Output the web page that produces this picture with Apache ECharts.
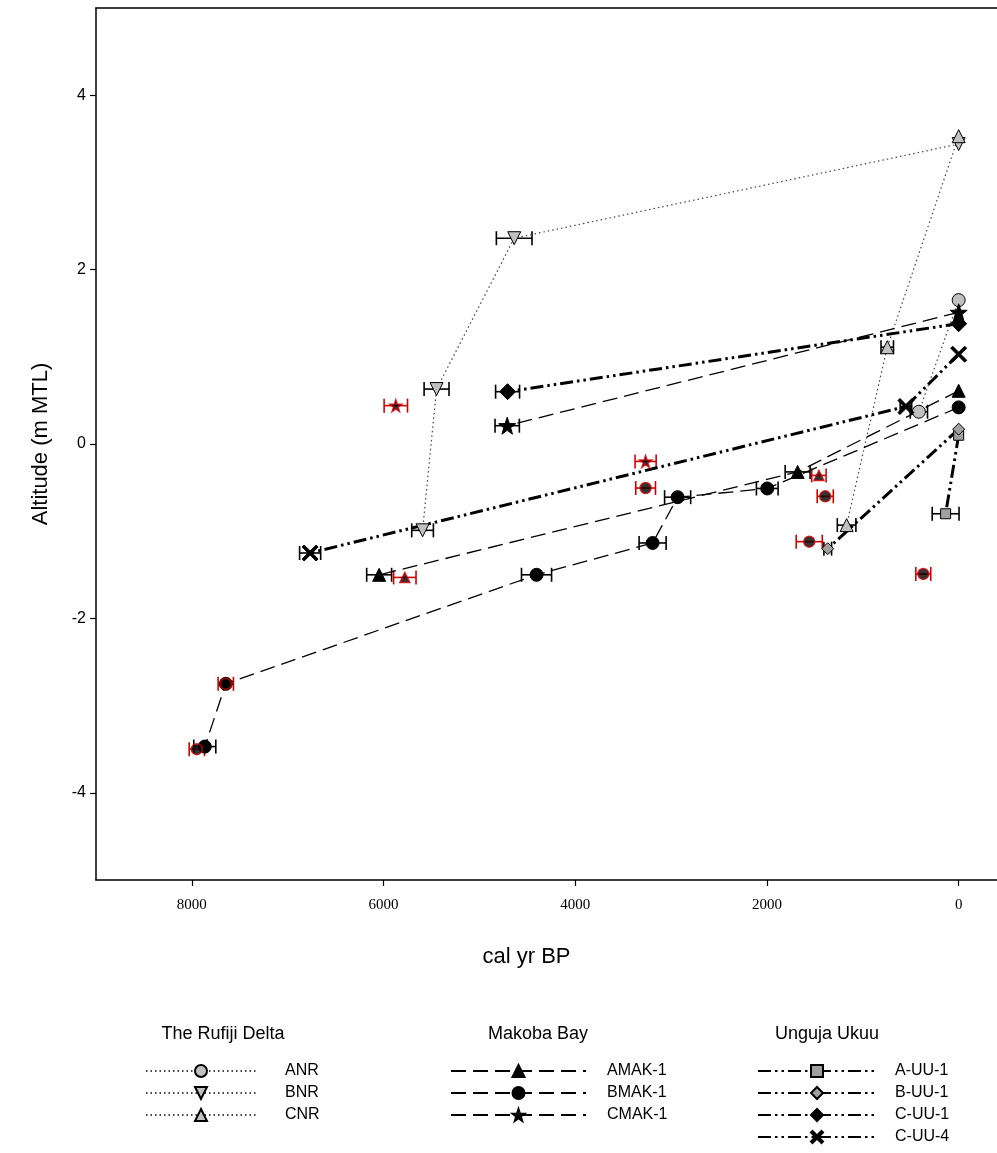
<!DOCTYPE html>
<html>
<head>
<meta charset="utf-8">
<script src="https://cdn.jsdelivr.net/npm/echarts@6/dist/echarts.min.js"></script>
<style>html,body{margin:0;padding:0;background:#fff}#c{width:997px;height:1153px}</style>
</head>
<body>
<div id="c"></div>
<script>
// ---- Data (cal yr BP, altitude m MTL, age error +/- yr) ----
const xTicks = [0, 2000, 4000, 6000, 8000];
const yTicks = [-4, -2, 0, 2, 4];

const anrYears = [0, 415];
const anrAlt = [1.65, 0.37];
const anrErr = [0, 90];

const bnrYears = [0, 4637, 5447, 5593];
const bnrAlt = [3.44, 2.36, 0.63, -0.99];
const bnrErr = [0, 186, 130, 113];

const cnrYears = [0, 745, 1169];
const cnrAlt = [3.53, 1.11, -0.93];
const cnrErr = [0, 65, 97];

const amakYears = [0, 1680, 6046];
const amakAlt = [0.61, -0.32, -1.50];
const amakErr = [0, 130, 130];

const bmakYears = [0, 1997, 2932, 3193, 4404, 7646, 7865];
const bmakAlt = [0.42, -0.51, -0.61, -1.135, -1.50, -2.75, -3.47];
const bmakErr = [0, 113, 136, 141, 157, 0, 115];

const cmakYears = [0, 4710];
const cmakAlt = [1.51, 0.21];
const cmakErr = [0, 127];

const auu1Years = [0, 136];
const auu1Alt = [0.10, -0.80];
const auu1Err = [0, 140];

const buu1Years = [0, 1366];
const buu1Alt = [0.17, -1.20];
const buu1Err = [0, 40];

const cuu1Years = [0, 4706];
const cuu1Alt = [1.38, 0.60];
const cuu1Err = [0, 125];

const cuu4Years = [0, 550, 6766];
const cuu4Alt = [1.03, 0.43, -1.25];
const cuu4Err = [0, 60, 110];

// dates shown with red error bars
const redTriYears = [5778, 1458];
const redTriAlt = [-1.53, -0.36];
const redTriErr = [117, 75];

const redCircYears = [7948, 7646, 3266, 1392, 1559, 369];
const redCircAlt = [-3.50, -2.75, -0.505, -0.60, -1.12, -1.49];
const redCircErr = [80, 80, 103, 84, 136, 78];

const redStarYears = [5872, 3266];
const redStarAlt = [0.44, -0.20];
const redStarErr = [122, 110];

// ---- helpers ----
const zip = (xs, ys) => xs.map((x, i) => [x, ys[i]]);
const zipErr = (xs, ys, es) => xs.map((x, i) => [x, ys[i], es[i]]).filter(d => d[2] > 0);

const STAR = 'path://M0,-10 L2.35,-3.24 L9.51,-3.09 L3.8,1.24 L5.88,8.09 L0,4 L-5.88,8.09 L-3.8,1.24 L-9.51,-3.09 L-2.35,-3.24 Z';
const XMARK = 'path://M-10,-7.5 L-7.5,-10 L0,-2.5 L7.5,-10 L10,-7.5 L2.5,0 L10,7.5 L7.5,10 L0,2.5 L-7.5,10 L-10,7.5 L-2.5,0 Z';
const GRAY = '#c0c0c0';

const blackErr = [].concat(
  zipErr(anrYears, anrAlt, anrErr), zipErr(bnrYears, bnrAlt, bnrErr), zipErr(cnrYears, cnrAlt, cnrErr),
  zipErr(amakYears, amakAlt, amakErr), zipErr(bmakYears, bmakAlt, bmakErr), zipErr(cmakYears, cmakAlt, cmakErr),
  zipErr(auu1Years, auu1Alt, auu1Err), zipErr(buu1Years, buu1Alt, buu1Err), zipErr(cuu1Years, cuu1Alt, cuu1Err),
  zipErr(cuu4Years, cuu4Alt, cuu4Err));
const redErr = [].concat(
  zipErr(redTriYears, redTriAlt, redTriErr), zipErr(redCircYears, redCircAlt, redCircErr),
  zipErr(redStarYears, redStarAlt, redStarErr));

function errSeries(data, color) {
  return {
    type: 'custom', data: data, z: 3, silent: true,
    encode: { x: 0, y: 1 },
    renderItem: function (params, api) {
      const x = api.value(0), y = api.value(1), e = api.value(2);
      const p1 = api.coord([x - e, y]);
      const p2 = api.coord([x + e, y]);
      const h = 7;
      const st = { stroke: color, lineWidth: 1.6, fill: null };
      return { type: 'group', children: [
        { type: 'line', shape: { x1: p1[0], y1: p1[1], x2: p2[0], y2: p2[1] }, style: st },
        { type: 'line', shape: { x1: p1[0], y1: p1[1] - h, x2: p1[0], y2: p1[1] + h }, style: st },
        { type: 'line', shape: { x1: p2[0], y1: p2[1] - h, x2: p2[0], y2: p2[1] + h }, style: st }
      ]};
    }
  };
}

const dotted = { color: '#444', width: 1.2, type: [1.5, 3] };
const dashed = { color: '#000', width: 1.3, type: [15, 7] };
const dashdot = { color: '#000', width: 3, type: [13, 4, 2.5, 4, 2.5, 4] };

function lineSeries(name, xs, ys, symbol, size, fill, ls, rot) {
  return {
    name: name, type: 'line', data: zip(xs, ys), z: 4,
    symbol: symbol, symbolSize: size, symbolRotate: rot || 0, showSymbol: true,
    lineStyle: ls,
    itemStyle: { color: fill, borderColor: '#000', borderWidth: 1 },
    emphasis: { disabled: true }, animation: false
  };
}
function redSeries(xs, ys, symbol, size) {
  return {
    type: 'scatter', data: zip(xs, ys), z: 6, symbol: symbol, symbolSize: size,
    itemStyle: { color: '#000', borderColor: '#d40000', borderWidth: 1.5 }, animation: false
  };
}

const chart = echarts.init(document.getElementById('c'), null, { renderer: 'canvas' });
const option = {
  animation: false,
  backgroundColor: '#fff',
  title: [
    { text: 'The Rufiji Delta', left: 218, top: 1020, textAlign: 'center', textStyle: { fontFamily: 'Liberation Sans', fontSize: 18, fontWeight: 'normal', color: '#000' } },
    { text: 'Makoba Bay', left: 533, top: 1020, textAlign: 'center', textStyle: { fontFamily: 'Liberation Sans', fontSize: 18, fontWeight: 'normal', color: '#000' } },
    { text: 'Unguja Ukuu', left: 822, top: 1020, textAlign: 'center', textStyle: { fontFamily: 'Liberation Sans', fontSize: 18, fontWeight: 'normal', color: '#000' } }
  ],
  legend: [
    { data: ['ANR', 'BNR', 'CNR'], orient: 'vertical', left: 140, top: 1058, itemWidth: 110, itemHeight: 15, itemGap: 6, selectedMode: false,
      textStyle: { fontFamily: 'Liberation Sans', fontSize: 16, color: '#000', padding: [0, 0, 0, 24] } },
    { data: ['AMAK-1', 'BMAK-1', 'CMAK-1'], orient: 'vertical', left: 445, top: 1058, itemWidth: 135, itemHeight: 15, itemGap: 6, selectedMode: false,
      textStyle: { fontFamily: 'Liberation Sans', fontSize: 16, color: '#000', padding: [0, 0, 0, 16] } },
    { data: ['A-UU-1', 'B-UU-1', 'C-UU-1', 'C-UU-4'], orient: 'vertical', left: 752, top: 1058, itemWidth: 118, itemHeight: 15, itemGap: 6, selectedMode: false,
      textStyle: { fontFamily: 'Liberation Sans', fontSize: 16, color: '#000', padding: [0, 0, 0, 14] } }
  ],
  grid: { left: 96, right: 0, top: 8, bottom: 273, containLabel: false },
  xAxis: [{
    type: 'value', inverse: true, min: -400, max: 9000,
    name: 'cal yr BP', nameLocation: 'middle', nameGap: 66,
    nameTextStyle: { fontFamily: 'Liberation Sans', fontSize: 22, color: '#000', padding: [0, 40, 0, 0] },
    axisLine: { show: true, onZero: false, lineStyle: { color: '#000', width: 1.5 } },
    axisTick: { show: true, inside: false, length: 6, customValues: xTicks, lineStyle: { color: '#000', width: 1.2 } },
    axisLabel: { customValues: xTicks, formatter: v => String(v), fontFamily: 'Liberation Serif', fontSize: 15, color: '#000', margin: 18 },
    splitLine: { show: false }
  }, {
    type: 'value', inverse: true, min: -400, max: 9000, position: 'top',
    axisLine: { show: true, onZero: false, lineStyle: { color: '#000', width: 1.5 } },
    axisTick: { show: false }, axisLabel: { show: false }, splitLine: { show: false }
  }],
  yAxis: {
    type: 'value', min: -5, max: 5,
    name: 'Altitude (m MTL)', nameLocation: 'middle', nameGap: 44,
    nameTextStyle: { fontFamily: 'Liberation Sans', fontSize: 22, color: '#000' },
    axisLine: { show: true, onZero: false, lineStyle: { color: '#000', width: 1.5 } },
    axisTick: { show: true, inside: false, length: 6, customValues: yTicks, lineStyle: { color: '#000', width: 1.2 } },
    axisLabel: { customValues: yTicks, formatter: v => String(v), fontFamily: 'Liberation Sans', fontSize: 16, color: '#000', margin: 10 },
    splitLine: { show: false }
  },
  series: [
    errSeries(blackErr, '#000'),
    errSeries(redErr, '#d40000'),
    lineSeries('ANR', anrYears, anrAlt, 'circle', 13, GRAY, dotted),
    lineSeries('BNR', bnrYears, bnrAlt, 'triangle', 13, GRAY, dotted, 180),
    lineSeries('CNR', cnrYears, cnrAlt, 'triangle', 13, GRAY, dotted),
    lineSeries('AMAK-1', amakYears, amakAlt, 'triangle', 13, '#000', dashed),
    lineSeries('BMAK-1', bmakYears, bmakAlt, 'circle', 13, '#000', dashed),
    lineSeries('CMAK-1', cmakYears, cmakAlt, STAR, 17, '#000', dashed),
    lineSeries('A-UU-1', auu1Years, auu1Alt, 'rect', 10, '#a0a0a0', dashdot),
    lineSeries('B-UU-1', buu1Years, buu1Alt, 'diamond', 12, '#a0a0a0', dashdot),
    lineSeries('C-UU-1', cuu1Years, cuu1Alt, 'diamond', 16, '#000', dashdot),
    lineSeries('C-UU-4', cuu4Years, cuu4Alt, XMARK, 16, '#000', dashdot),
    redSeries(redTriYears, redTriAlt, 'triangle', 10),
    redSeries(redCircYears, redCircAlt, 'circle', 11),
    redSeries(redStarYears, redStarAlt, STAR, 12)
  ]
};
chart.setOption(option);
</script>
</body>
</html>
